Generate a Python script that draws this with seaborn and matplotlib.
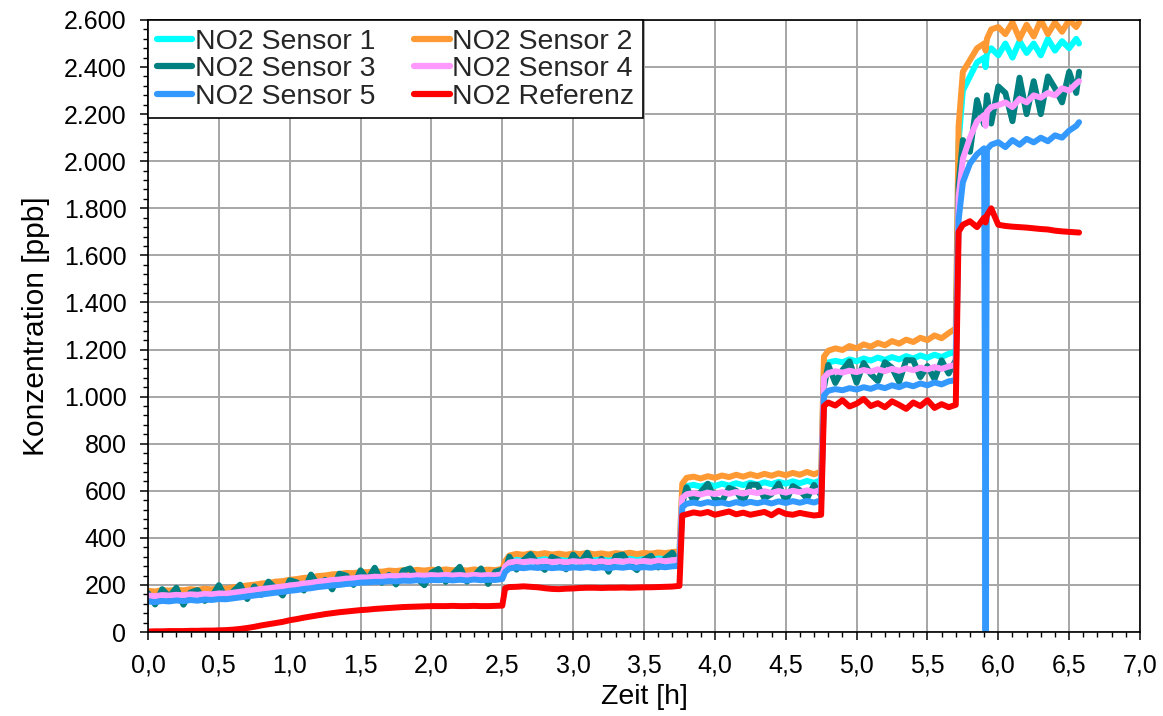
import numpy as np
import pandas as pd
import matplotlib
matplotlib.use("Agg")
import matplotlib.pyplot as plt
import seaborn as sns
from matplotlib.ticker import MultipleLocator, FuncFormatter

# ---------------- data ----------------
TIME_H = [
    0.00, 0.05, 0.10, 0.15, 0.20, 0.25, 0.30, 0.35, 0.40, 0.45, 0.50,
    0.55, 0.60, 0.65, 0.70, 0.75, 0.80, 0.85, 0.90, 0.95, 1.00,
    1.05, 1.10, 1.15, 1.20, 1.25, 1.30, 1.35, 1.40, 1.45, 1.50,
    1.55, 1.60, 1.65, 1.70, 1.75, 1.80, 1.85, 1.90, 1.95, 2.00,
    2.05, 2.10, 2.15, 2.20, 2.25, 2.30, 2.35, 2.40, 2.45, 2.50,
    2.52, 2.55, 2.60, 2.65, 2.70, 2.75, 2.80, 2.85, 2.90, 2.95, 3.00, 3.05, 3.10,
    3.15, 3.20, 3.25, 3.30, 3.35, 3.40, 3.45, 3.50, 3.55, 3.60, 3.65, 3.70, 3.75,
    3.77, 3.80, 3.85, 3.90, 3.95, 4.00, 4.05, 4.10, 4.15, 4.20, 4.25,
    4.30, 4.35, 4.40, 4.45, 4.50, 4.55, 4.60, 4.65, 4.70, 4.75,
    4.77, 4.80, 4.85, 4.90, 4.95, 5.00, 5.05, 5.10, 5.15, 5.20,
    5.25, 5.30, 5.35, 5.40, 5.45, 5.50, 5.55, 5.60, 5.65, 5.70,
    5.72, 5.75, 5.80, 5.85, 5.90, 5.91, 5.92, 5.95, 6.00, 6.05, 6.10,
    6.15, 6.20, 6.25, 6.30, 6.35, 6.40, 6.45, 6.50, 6.55, 6.57,
]

SENSOR_1 = [
    165, 163, 168, 167, 170, 168, 172, 170, 174, 172, 176,
    175, 180, 184, 188, 192, 196, 199, 204, 207, 212,
    215, 220, 223, 228, 231, 235, 237, 241, 241, 245,
    245, 248, 247, 251, 250, 253, 251, 254, 252, 255,
    253, 256, 253, 255, 252, 256, 253, 255, 254, 257,
    290, 312, 320, 316, 322, 318, 323, 317, 321, 316, 322, 319, 324,
    318, 322, 317, 323, 320, 325, 319, 324, 321, 326, 323, 328, 330,
    600, 620, 625, 618, 628, 620, 630, 622, 632, 624, 634,
    626, 636, 628, 638, 630, 640, 632, 642, 634, 645,
    1120, 1145, 1152, 1146, 1158, 1150, 1162, 1153, 1166, 1156,
    1168, 1158, 1172, 1162, 1175, 1165, 1178, 1168, 1182, 1190,
    2080, 2300, 2360, 2420, 2440, 2400, 2460, 2480, 2450, 2500, 2440,
    2510, 2460, 2500, 2450, 2520, 2470, 2510, 2480, 2520, 2500,
]

SENSOR_2 = [
    175, 172, 178, 176, 180, 177, 182, 179, 184, 181, 186,
    184, 190, 193, 198, 201, 206, 208, 214, 216, 222,
    225, 230, 232, 238, 240, 245, 246, 251, 250, 255,
    254, 258, 256, 261, 259, 263, 260, 264, 261, 265,
    262, 266, 262, 265, 261, 266, 262, 265, 263, 268,
    300, 325, 332, 328, 334, 330, 335, 329, 333, 328, 334, 331, 336,
    330, 334, 329, 335, 332, 337, 331, 336, 333, 338, 335, 340, 342,
    630, 655, 660, 652, 662, 655, 665, 658, 668, 660, 670,
    662, 672, 664, 674, 666, 676, 668, 680, 670, 682,
    1170, 1195, 1205, 1198, 1215, 1205, 1222, 1212, 1228, 1218,
    1236, 1225, 1242, 1232, 1250, 1240, 1260, 1248, 1270, 1290,
    2150, 2380, 2430, 2480, 2500, 2470, 2520, 2560, 2570, 2540, 2590,
    2520, 2580, 2530, 2600, 2540, 2590, 2550, 2600, 2570, 2590,
]

SENSOR_3 = [
    165, 117, 182, 150, 188, 116, 168, 178, 132, 150, 199,
    143, 172, 201, 140, 194, 158, 214, 185, 155, 220,
    211, 176, 244, 199, 222, 181, 248, 239, 200, 262,
    222, 273, 209, 243, 202, 260, 270, 226, 199, 252,
    268, 213, 245, 277, 214, 238, 270, 204, 256, 265,
    258, 320, 265, 305, 331, 288, 264, 319, 305, 266, 329, 293, 337,
    272, 311, 256, 322, 329, 288, 263, 307, 324, 274, 313, 337, 287,
    545, 615, 555, 594, 630, 566, 554, 612, 600, 553, 626,
    625, 568, 586, 631, 554, 620, 602, 567, 625, 580,
    1040, 1135, 1058, 1112, 1150, 1059, 1143, 1096, 1066, 1146,
    1123, 1062, 1155, 1154, 1083, 1130, 1074, 1154, 1098, 1155,
    1900, 2090, 2040, 2260, 2156, 2210, 2280, 2160, 2318, 2290, 2170,
    2355, 2200, 2340, 2200, 2360, 2310, 2250, 2380, 2290, 2380,
]

SENSOR_4 = [
    155, 152, 157, 155, 158, 156, 160, 158, 162, 160, 164,
    163, 167, 171, 175, 179, 183, 186, 190, 193, 198,
    201, 206, 209, 214, 217, 221, 223, 227, 228, 232,
    232, 235, 234, 238, 237, 240, 238, 241, 239, 242,
    240, 243, 240, 242, 239, 243, 240, 242, 241, 245,
    278, 295, 300, 297, 301, 298, 302, 297, 300, 296, 301, 298, 302,
    297, 301, 296, 302, 299, 303, 298, 302, 299, 304, 301, 305, 307,
    570, 585, 590, 584, 592, 586, 594, 587, 595, 588, 596,
    590, 598, 591, 599, 592, 600, 594, 602, 595, 605,
    1080, 1100, 1108, 1102, 1110, 1104, 1113, 1106, 1116, 1108,
    1118, 1110, 1120, 1112, 1123, 1115, 1126, 1118, 1128, 1135,
    1850, 2010, 2100, 2170, 2196, 2150, 2210, 2230, 2238, 2250, 2230,
    2265, 2250, 2280, 2270, 2290, 2280, 2310, 2300, 2330, 2340,
]

SENSOR_5 = [
    130, 127, 132, 130, 134, 131, 136, 133, 138, 136, 140,
    139, 143, 147, 151, 155, 159, 163, 167, 170, 175,
    178, 183, 186, 191, 194, 198, 200, 204, 206, 210,
    211, 213, 213, 216, 215, 218, 217, 220, 218, 221,
    220, 222, 219, 222, 219, 223, 220, 222, 221, 225,
    255, 270, 274, 271, 275, 272, 276, 271, 274, 270, 275, 272, 276,
    271, 275, 270, 276, 273, 277, 272, 276, 273, 278, 275, 279, 281,
    530, 545, 550, 544, 552, 546, 550, 543, 552, 545, 553,
    547, 554, 546, 555, 548, 556, 549, 557, 550, 560,
    1005, 1025, 1032, 1027, 1036, 1030, 1040, 1033, 1044, 1036,
    1048, 1040, 1052, 1044, 1056, 1048, 1060, 1052, 1065, 1070,
    1750, 1910, 1990, 2030, 2055, 0, 2050, 2070, 2081, 2060, 2090,
    2070, 2095, 2080, 2100, 2085, 2110, 2100, 2130, 2150, 2166,
]

REFERENZ = [
    2, 3, 3, 4, 4, 4, 5, 5, 6, 6, 7,
    8, 10, 13, 17, 22, 28, 33, 38, 43, 50,
    55, 61, 66, 71, 76, 80, 84, 87, 90, 93,
    95, 98, 100, 102, 104, 106, 107, 108, 109, 110,
    110, 110, 111, 110, 110, 111, 110, 110, 111, 112,
    186, 191, 192, 194, 192, 190, 186, 183, 182, 184, 185, 187, 188,
    188, 187, 188, 188, 189, 188, 189, 190, 190, 191, 192, 193, 196,
    495, 500, 508, 503, 510, 498, 505, 512, 500, 507, 498,
    504, 510, 496, 515, 502, 498, 506, 500, 495, 498,
    960, 975, 962, 985, 958, 970, 990, 960, 972, 955,
    980, 965, 948, 975, 960, 985, 952, 968, 955, 965,
    1700, 1730, 1745, 1720, 1760, 1740, 1770, 1800, 1730, 1725, 1722,
    1720, 1718, 1715, 1712, 1710, 1705, 1702, 1700, 1698, 1697,
]

LABELS = ["NO2 Sensor 1", "NO2 Sensor 2", "NO2 Sensor 3",
          "NO2 Sensor 4", "NO2 Sensor 5", "NO2 Referenz"]
COLORS = ["#00FFFF", "#FF9933", "#008080", "#FF99FF", "#3399FF", "#FF0000"]
SERIES = [SENSOR_1, SENSOR_2, SENSOR_3, SENSOR_4, SENSOR_5, REFERENZ]

# ---------------- build long-form table ----------------
frames = []
for lab, vals in zip(LABELS, SERIES):
    assert len(vals) == len(TIME_H), lab
    frames.append(pd.DataFrame({"Zeit": TIME_H, "Konz": vals, "Serie": lab}))
df = pd.concat(frames, ignore_index=True)

# ---------------- style ----------------
sns.set_style("ticks")
plt.rcParams["font.family"] = ["Liberation Sans", "DejaVu Sans"]

fig = plt.figure(figsize=(11.63, 7.16), dpi=100)
ax = fig.add_axes([148 / 1163, 84 / 716, (1140 - 148) / 1163, (632 - 20) / 716])

sns.lineplot(data=df, x="Zeit", y="Konz", hue="Serie", hue_order=LABELS,
             palette=COLORS, estimator=None, sort=False, linewidth=4.3,
             solid_joinstyle="round", solid_capstyle="round", ax=ax)

ax.set_xlim(0, 7)
ax.set_ylim(0, 2600)
ax.xaxis.set_major_locator(MultipleLocator(0.5))
ax.xaxis.set_minor_locator(MultipleLocator(0.1))
ax.yaxis.set_major_locator(MultipleLocator(200))
ax.yaxis.set_minor_locator(MultipleLocator(40))
ax.xaxis.set_major_formatter(FuncFormatter(lambda v, p: f"{v:.1f}".replace(".", ",")))
ax.yaxis.set_major_formatter(FuncFormatter(lambda v, p: f"{int(round(v)):,}".replace(",", ".")))

ax.set_axisbelow(True)
ax.grid(True, which="major", color="#a6a6a6", linewidth=1.4)
for s in ax.spines.values():
    s.set_color("black")
    s.set_linewidth(1.2)
    s.set_visible(True)

ax.tick_params(axis="both", which="major", direction="out", length=5.5, width=1.1,
               color="black", labelsize=18, labelcolor="black")
ax.tick_params(axis="both", which="minor", direction="out", length=3.5, width=1.0,
               color="black")
ax.tick_params(axis="x", which="major", pad=10)
ax.tick_params(axis="y", which="major", pad=10)

ax.set_xlabel("Zeit [h]", fontsize=20.5, color="black", labelpad=5)
ax.set_ylabel("Konzentration [ppb]", fontsize=21.5, color="black", labelpad=10)

# legend: two columns, row-wise order as in the reference
handles, labels = ax.get_legend_handles_labels()
if ax.get_legend() is not None:
    ax.get_legend().remove()
order = [0, 2, 4, 1, 3, 5]
h = [handles[i] for i in order]
l = [labels[i] for i in order]
leg = ax.legend(h, l, loc="upper left", ncol=2, fontsize=20.5, frameon=True,
                fancybox=False, framealpha=1, edgecolor="black",
                borderaxespad=0.0, borderpad=0.3, handlelength=1.25,
                handletextpad=0.1, columnspacing=1.35, labelspacing=0.06)
leg.get_frame().set_linewidth(1.2)
for line in leg.get_lines():
    line.set_linewidth(4.5)
    line.set_solid_capstyle("round")

fig.savefig("out.png", dpi=100)
